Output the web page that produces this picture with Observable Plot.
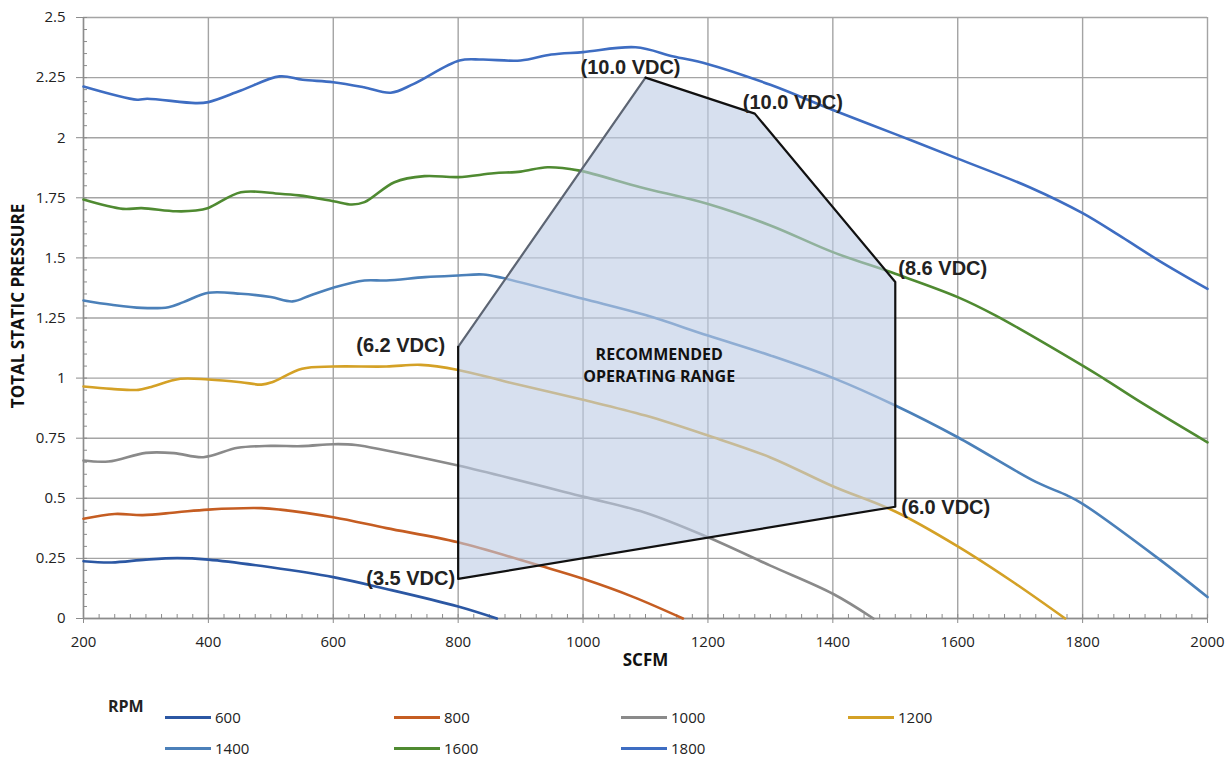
<!DOCTYPE html>
<html>
<head>
<meta charset="utf-8">
<script src="https://cdn.jsdelivr.net/npm/d3@7"></script>
<script src="https://cdn.jsdelivr.net/npm/@observablehq/plot@0.6"></script>
<style>
  html, body { margin: 0; padding: 0; background: #fff; }
  body { width: 1231px; height: 759px; overflow: hidden; font-family: "Open Sans", sans-serif; }
  #legend { position: relative; width: 1231px; height: 69px; }
  .rpm { position: absolute; left: 108px; top: 5px; font-weight: bold; font-size: 16px; color: #222; }
  .item { position: absolute; display: flex; align-items: center; font-size: 15px; color: #222; height: 20px; }
  .sw { width: 46px; height: 3px; margin-right: 4px; }
</style>
</head>
<body>
<div id="chart"></div>
<div id="legend"></div>
<script>
// ---------------- DATA ----------------
const rpmNames = ["600", "800", "1000", "1200", "1400", "1600", "1800"];
const rpmColors = ["#2b57a3", "#c55d22", "#8a8a8a", "#d4a126", "#4b80b9", "#4f8a31", "#3e6dc2"];

const rpm600 = [[200,0.238],[245,0.233],[300,0.245],[350,0.251],[400,0.245],[500,0.213],[600,0.172],[685,0.123],[800,0.05],[862,0]];
const rpm800 = [[200,0.415],[250,0.435],[295,0.43],[350,0.442],[400,0.453],[485,0.459],[515,0.453],[600,0.421],[685,0.376],[800,0.317],[930,0.22],[1000,0.165],[1080,0.09],[1160,0]];
const rpm1000 = [[200,0.657],[240,0.653],[300,0.689],[345,0.688],[392,0.671],[447,0.71],[500,0.718],[550,0.717],[600,0.725],[636,0.722],[685,0.699],[800,0.636],[1000,0.507],[1100,0.44],[1200,0.338],[1300,0.22],[1400,0.103],[1465,0]];
const rpm1200 = [[200,0.965],[245,0.955],[288,0.951],[306,0.962],[355,0.997],[400,0.994],[452,0.983],[485,0.973],[502,0.983],[550,1.039],[600,1.048],[685,1.048],[740,1.055],[800,1.034],[880,0.983],[1000,0.91],[1100,0.844],[1200,0.761],[1300,0.67],[1400,0.55],[1500,0.445],[1600,0.30],[1685,0.158],[1772,0]];
const rpm1400 = [[200,1.323],[245,1.305],[293,1.292],[336,1.295],[360,1.316],[400,1.355],[452,1.351],[500,1.337],[535,1.319],[563,1.344],[600,1.376],[650,1.406],[685,1.406],[747,1.42],[800,1.427],[840,1.431],[870,1.417],[1000,1.33],[1100,1.262],[1200,1.177],[1300,1.094],[1400,1.001],[1500,0.886],[1600,0.754],[1726,0.567],[1775,0.512],[1800,0.477],[1922,0.248],[2000,0.089]];
const rpm1600 = [[200,1.743],[263,1.704],[293,1.707],[348,1.694],[380,1.697],[400,1.708],[452,1.773],[514,1.767],[545,1.76],[600,1.736],[630,1.722],[650,1.732],[698,1.815],[746,1.84],[800,1.836],[857,1.852],[900,1.859],[943,1.877],[992,1.864],[1092,1.794],[1199,1.725],[1300,1.635],[1400,1.524],[1500,1.434],[1600,1.337],[1661,1.26],[1800,1.052],[1834,0.998],[1893,0.9],[2000,0.733]];
const rpm1800 = [[200,2.213],[286,2.158],[302,2.162],[379,2.144],[400,2.148],[452,2.196],[514,2.255],[551,2.241],[600,2.231],[649,2.21],[692,2.187],[729,2.224],[802,2.321],[839,2.325],[900,2.321],[949,2.346],[1000,2.356],[1084,2.376],[1145,2.338],[1199,2.307],[1300,2.22],[1400,2.115],[1500,2.015],[1600,1.913],[1715,1.794],[1800,1.686],[1863,1.586],[1922,1.489],[2000,1.371]];
const rpmSeries = [rpm600, rpm800, rpm1000, rpm1200, rpm1400, rpm1600, rpm1800];

// recommended operating range polygon (SCFM, pressure)
const rangeScfm = [800, 800, 1100, 1275, 1500, 1500];
const rangePressure = [0.165, 1.13, 2.25, 2.1, 1.4, 0.465];
const rangeVdc = ["(3.5 VDC)", "(6.2 VDC)", "(10.0 VDC)", "(10.0 VDC)", "(8.6 VDC)", "(6.0 VDC)"];
const rangeTitle = "RECOMMENDED\nOPERATING RANGE";
const rangeTitleAt = [1122, 1.06];

// axes ticks
const xTicks = [200, 400, 600, 800, 1000, 1200, 1400, 1600, 1800, 2000];
const xMinor = d3.range(200, 2001, 25);
const yTicks = [0, 0.25, 0.5, 0.75, 1, 1.25, 1.5, 1.75, 2, 2.25, 2.5];
const yTickLabels = ["0", "0.25", "0.5", "0.75", "1", "1.25", "1.5", "1.75", "2", "2.25", "2.5"];
const yMinor = d3.range(0, 2.501, 0.05);
const xTitle = "SCFM";
const yTitle = "TOTAL STATIC PRESSURE";
const legendTitle = "RPM";

// ---------------- BUILD ----------------
const curves = rpmSeries.flatMap((s, i) => s.map(([x, y]) => ({rpm: rpmNames[i], x, y})));
const poly = rangeScfm.map((x, i) => ({x, y: rangePressure[i], label: rangeVdc[i]}));
const slanted = [poly[1], poly[2]];
const blackEdge = [poly[2], poly[3], poly[4], poly[5], poly[0], poly[1]];

const W = 1231, H = 690;
const mL = 83, mR = 24, mT = 17, mB = 72;
const frameW = W - mL - mR, frameH = H - mT - mB;
const grid = "#a4a4a4";
const labelFont = "'Liberation Sans', 'Open Sans', sans-serif";
const labelStyle = [
  {textAnchor: "end", dx: -3, dy: 0},
  {textAnchor: "end", dx: -13, dy: -1},
  {textAnchor: "middle", dx: -15, dy: -10},
  {textAnchor: "start", dx: -12, dy: -11},
  {textAnchor: "start", dx: 3, dy: -13},
  {textAnchor: "start", dx: 6, dy: 1}
];

const chart = Plot.plot({
  width: W, height: H,
  marginLeft: mL, marginRight: mR, marginTop: mT, marginBottom: mB,
  style: {fontFamily: "'Open Sans', sans-serif", fontSize: "15px", color: "#222", background: "#fff"},
  x: {domain: [200, 2000]},
  y: {domain: [0, 2.5]},
  color: {domain: rpmNames, range: rpmColors},
  marks: [
    Plot.gridY(yTicks, {stroke: grid, strokeOpacity: 1, strokeWidth: 1.4}),
    Plot.gridX(xTicks, {stroke: grid, strokeOpacity: 1, strokeWidth: 1.4}),
    Plot.tickY(yMinor, {y: d => d, stroke: "#8c8c8c", strokeWidth: 1, insetRight: frameW - 4}),
    Plot.tickX(xMinor, {x: d => d, stroke: "#8c8c8c", strokeWidth: 1, insetTop: frameH - 4}),
    Plot.axisY(yTicks, {tickSize: 7, tickPadding: 11, tickFormat: d => yTickLabels[yTicks.indexOf(d)], stroke: "#8c8c8c", fill: "#222", fontSize: 15, label: null}),
    Plot.axisX(xTicks, {tickSize: 5, tickPadding: 13, tickFormat: d => String(d), stroke: "#8c8c8c", fill: "#222", fontSize: 15, label: null}),
    Plot.ruleX([200], {stroke: "#8c8c8c", strokeWidth: 1.4}),
    Plot.ruleY([0], {stroke: "#8c8c8c", strokeWidth: 1.4}),
    Plot.line(curves, {x: "x", y: "y", z: "rpm", stroke: "rpm", strokeWidth: 2.6, curve: "catmull-rom"}),
    Plot.line(poly, {x: "x", y: "y", fill: "#bccbe5", fillOpacity: 0.6, stroke: "none"}),
    Plot.line(slanted, {x: "x", y: "y", stroke: "#5d6573", strokeWidth: 2.2}),
    Plot.line(blackEdge, {x: "x", y: "y", stroke: "#111", strokeWidth: 2.2}),
    ...poly.map((p, i) => Plot.text([p], {x: "x", y: "y", text: "label", ariaLabel: "vdc", fontFamily: labelFont, fontWeight: "bold", fontSize: 20, fill: "#222", ...labelStyle[i]})),
    Plot.text([rangeTitle], {x: rangeTitleAt[0], y: rangeTitleAt[1], text: d => d, fontWeight: "bold", fontSize: 16, lineHeight: 1.4, fill: "#111"}),
    Plot.text([xTitle], {frameAnchor: "bottom", text: d => d, dy: 47, fontWeight: "bold", fontSize: 17, fill: "#111"}),
    Plot.text([yTitle], {frameAnchor: "left", textAnchor: "middle", text: d => d, rotate: -90, dx: -65, dy: -12, fontWeight: "bold", fontSize: 17, fill: "#111"})
  ]
});
document.getElementById("chart").appendChild(chart);

// condensed look for the VDC labels
d3.select(chart).selectAll('g[aria-label="vdc"] text').each(function () {
  const w = this.getComputedTextLength();
  this.setAttribute("textLength", (w * 0.83).toFixed(1));
  this.setAttribute("lengthAdjust", "spacingAndGlyphs");
});

// legend
const lg = document.getElementById("legend");
const t = document.createElement("div");
t.className = "rpm"; t.textContent = legendTitle; lg.appendChild(t);
const colX = [165, 394, 621, 848];
const rowY = [17, 48];
rpmNames.forEach((n, i) => {
  const d = document.createElement("div");
  d.className = "item";
  d.style.left = colX[i % 4] + "px";
  d.style.top = rowY[Math.floor(i / 4)] + "px";
  const sw = document.createElement("span");
  sw.className = "sw"; sw.style.background = rpmColors[i];
  const lb = document.createElement("span");
  lb.textContent = n;
  d.appendChild(sw); d.appendChild(lb);
  lg.appendChild(d);
});
</script>
</body>
</html>
